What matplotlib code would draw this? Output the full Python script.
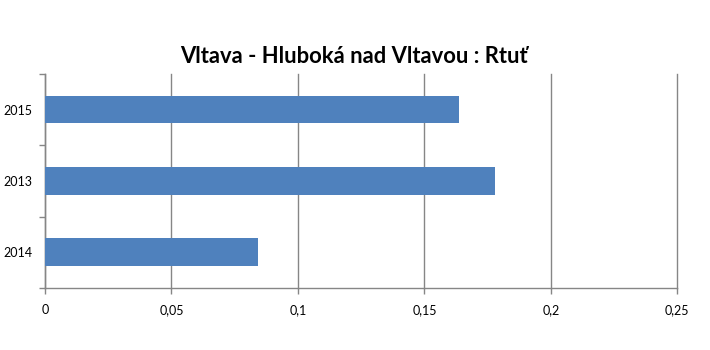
import matplotlib
matplotlib.use('Agg')
import matplotlib.pyplot as plt
from matplotlib.ticker import FuncFormatter, FixedLocator

plt.rcParams['font.family'] = ['Lato', 'DejaVu Sans']

# data, top to bottom
years = ['2015', '2013', '2014']
values = [0.1636, 0.1779, 0.0841]
title = 'Vltava - Hluboká nad Vltavou : Rtuť'

fig = plt.figure(figsize=(7.1, 3.5), dpi=100)
ax = fig.add_axes([0.0634, 0.178, 0.8906, 0.61])

pos = list(range(len(years)))[::-1]
ax.barh(pos, values, height=0.385, color='#4f81bd', zorder=3)

ax.set_xlim(0, 0.25)
ax.set_ylim(-0.5, 2.5)
ax.set_xticks([0, 0.05, 0.1, 0.15, 0.2, 0.25])
ax.xaxis.set_major_formatter(FuncFormatter(lambda v, p: ('%g' % v).replace('.', ',')))
ax.grid(axis='x', color='#868686', linewidth=1, zorder=0)
for gl in ax.get_xgridlines():
    gl.set_clip_on(False)

# category labels at bar centres, tick marks between categories
ax.set_yticks(pos)
ax.set_yticklabels(years)
ax.tick_params(axis='y', length=0, pad=9, labelsize=9)
ax.yaxis.set_minor_locator(FixedLocator([-0.5, 0.5, 1.5, 2.5]))
ax.tick_params(axis='y', which='minor', length=4, color='#868686', width=1)
ax.tick_params(axis='x', length=4, color='#868686', width=1, labelsize=9, pad=8)

for s in ['top', 'right']:
    ax.spines[s].set_visible(False)
for s in ['left', 'bottom']:
    ax.spines[s].set_color('#868686')
    ax.spines[s].set_linewidth(1)

fig.text(0.498, 0.82, title, ha='center', va='baseline', fontsize=15.8, fontweight='bold')

fig.savefig('out.png', dpi=100)
